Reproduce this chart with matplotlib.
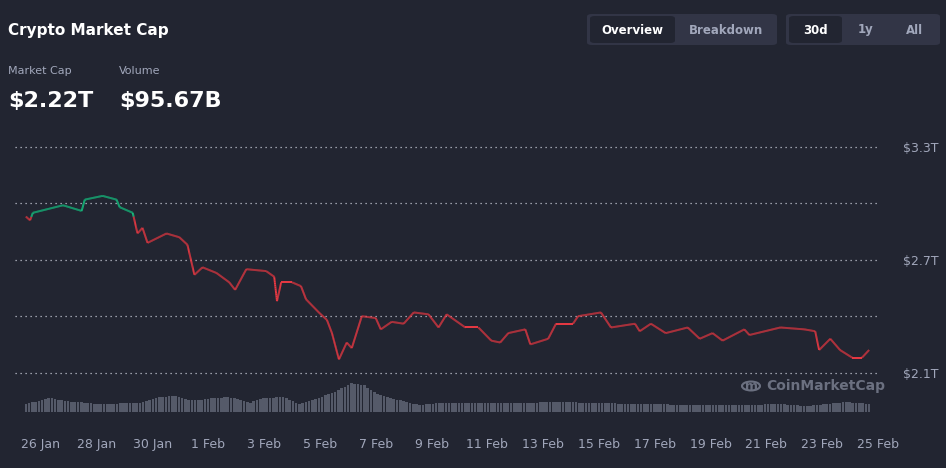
import matplotlib
matplotlib.use("Agg")
import matplotlib.pyplot as plt
import numpy as np
from matplotlib.patches import FancyBboxPatch, Circle
from matplotlib.collections import LineCollection

# ---- data (days after 26 Jan, market cap in $T) ----
cap_days = [-0.54, -0.39, -0.29, 0.79, 1.46, 1.57, 2.21, 2.71, 2.82, 3.29, 3.46, 3.64, 3.82,
            4.5, 4.96, 5.25, 5.5, 5.79, 6.29, 6.75, 6.96, 7.36, 8.07, 8.36, 8.46, 8.61,
            9.0, 9.32, 9.5, 9.96, 10.25, 10.43, 10.68, 10.96, 11.14, 11.5, 12.0, 12.18, 12.57,
            13.0, 13.36, 13.89, 14.25, 14.54, 15.21, 15.68,
            16.14, 16.46, 16.75, 17.36, 17.54, 18.18, 18.46, 19.07, 19.25, 20.07, 20.43,
            21.29, 21.46, 21.86, 22.39, 23.18, 23.61, 24.07, 24.43, 25.21, 25.39, 26.5,
            27.36, 27.75, 27.89, 28.29, 28.64, 29.07, 29.43, 29.68]
cap_vals = [2.93, 2.91, 2.95, 2.99, 2.96, 3.02, 3.04, 3.02, 2.98, 2.95, 2.84, 2.87, 2.79,
            2.84, 2.82, 2.78, 2.62, 2.66, 2.63, 2.58, 2.54, 2.65, 2.64, 2.61, 2.48, 2.58,
            2.58, 2.56, 2.49, 2.42, 2.38, 2.31, 2.17, 2.26, 2.23, 2.40, 2.39, 2.33, 2.37,
            2.36, 2.42, 2.41, 2.34, 2.41, 2.34, 2.34,
            2.27, 2.26, 2.31, 2.33, 2.25, 2.28, 2.36, 2.36, 2.40, 2.42, 2.34,
            2.36, 2.32, 2.36, 2.31, 2.34, 2.28, 2.31, 2.27, 2.33, 2.30, 2.34,
            2.33, 2.32, 2.22, 2.28, 2.22, 2.18, 2.18, 2.22]

vol_days = [-0.54, 0.32, 0.86, 2.11, 3.54, 4.25, 4.79, 5.32, 5.68, 6.21, 6.75, 7.46, 8.0,
            8.71, 9.25, 9.96, 10.68, 11.11, 11.57, 12.11, 12.82, 13.54, 14.25, 14.96, 15.68,
            17.11, 18.54, 19.96, 21.39, 23.54, 25.32, 26.39, 27.46, 28.18, 28.89, 29.68]
vol_vals = [8, 14, 11, 8, 9, 15, 16, 12, 12, 14, 15, 9, 14, 15, 8, 14, 22, 29, 27, 17,
            12, 7, 9, 9, 9, 9, 10, 9, 8, 7, 7, 8, 6, 8, 10, 8]

tick_labels = ["26 Jan", "28 Jan", "30 Jan", "1 Feb", "3 Feb", "5 Feb", "7 Feb", "9 Feb",
               "11 Feb", "13 Feb", "15 Feb", "17 Feb", "19 Feb", "21 Feb", "23 Feb", "25 Feb"]
y_ticks = [2.1, 2.4, 2.7, 3.0, 3.3]
y_labels = ["$2.1T", "", "$2.7T", "", "$3.3T"]

BG = "#222531"
W, H = 946, 468
fig = plt.figure(figsize=(W / 100, H / 100), dpi=100, facecolor=BG)

def fx(px): return px / W
def fy(py): return 1 - py / H

ax = fig.add_axes([fx(15), fy(412), fx(878 - 15), (412 - 130) / H])
ax.set_facecolor(BG)
PXD = 27.97
ax.set_xlim((15 - 41) / PXD, (878 - 41) / PXD)
ax.set_ylim(3.3 - 265 / 188, 3.3 + 17 / 188)

d = np.array(cap_days, dtype=float)
v = np.array(cap_vals, dtype=float)
xs = np.linspace(d[0], d[-1], 4000)
ys = np.interp(xs, d, v)
base = v[0]
pts = np.column_stack([xs, ys]).reshape(-1, 1, 2)
segs = np.concatenate([pts[:-1], pts[1:]], axis=1)
cols = np.where((ys[:-1] + ys[1:]) / 2 >= base, "#16c784", "#ea3943")
ax.add_collection(LineCollection(segs, colors=cols, linewidth=1.4, zorder=3))

ax2 = ax.twinx()
ax2.set_ylim(0, 282)
vd = np.linspace(vol_days[0], vol_days[-1], 260)
vv = np.interp(vd, vol_days, vol_vals)
ax2.bar(vd, vv, width=(vd[1] - vd[0]) * 0.8, color="#5b6070", alpha=0.9, zorder=1)
ax2.set_yticks([])
for a in (ax, ax2):
    for s in a.spines.values():
        s.set_visible(False)

ax.set_yticks(y_ticks)
ax.set_yticklabels(y_labels)
ax.yaxis.tick_right()
ax.tick_params(axis="y", length=0, pad=18, labelcolor="#a1a7bb", labelsize=9)
ax.grid(axis="y", color="#c0c4d0", linestyle=(0, (1, 3)), linewidth=0.9)
ax.set_xticks(np.arange(0, 31, 2))
ax.set_xticklabels(tick_labels)
ax.tick_params(axis="x", length=0, pad=19, labelcolor="#a1a7bb", labelsize=9)
ax.set_zorder(ax2.get_zorder() + 1)
ax.patch.set_visible(False)

# watermark
fig.patches.append(Circle((fx(751), fy(386)), 9 / W, transform=fig.transFigure,
                          facecolor="none", edgecolor="#6b7080", linewidth=1.5))
fig.text(fx(751), fy(386), "m", color="#6b7080", fontsize=9, fontweight="bold",
         va="center", ha="center")
fig.text(fx(766), fy(386), "CoinMarketCap", color="#6b7080", fontsize=10,
         fontweight="bold", va="center")

# header
fig.text(fx(8), fy(30), "Crypto Market Cap", color="white", fontsize=11, fontweight="bold", va="center")
fig.text(fx(8), fy(71), "Market Cap", color="#a1a7bb", fontsize=8, va="center")
fig.text(fx(119), fy(71), "Volume", color="#a1a7bb", fontsize=8, va="center")
fig.text(fx(8), fy(101), "$2.22T", color="white", fontsize=16, fontweight="bold", va="center")
fig.text(fx(119), fy(101), "$95.67B", color="white", fontsize=16, fontweight="bold", va="center")

def box(x0, y0, x1, y1, color, r=5):
    fig.patches.append(FancyBboxPatch((fx(x0), fy(y1)), fx(x1 - x0), (y1 - y0) / H,
                                      boxstyle=f"round,pad=0,rounding_size={r / W}",
                                      transform=fig.transFigure, facecolor=color,
                                      edgecolor="none"))

box(587, 14, 777, 45, "#323546")
box(590, 16, 675, 43, BG)
box(786, 14, 940, 45, "#323546")
box(789, 16, 842, 43, BG)
for txt, x, c in [("Overview", 632, "white"), ("Breakdown", 726, "#a1a7bb"),
                  ("30d", 815, "white"), ("1y", 866, "#a1a7bb"), ("All", 914, "#a1a7bb")]:
    fig.text(fx(x), fy(30), txt, color=c, fontsize=8.5, fontweight="bold", ha="center", va="center")

fig.savefig("out.png", dpi=100, facecolor=BG)
